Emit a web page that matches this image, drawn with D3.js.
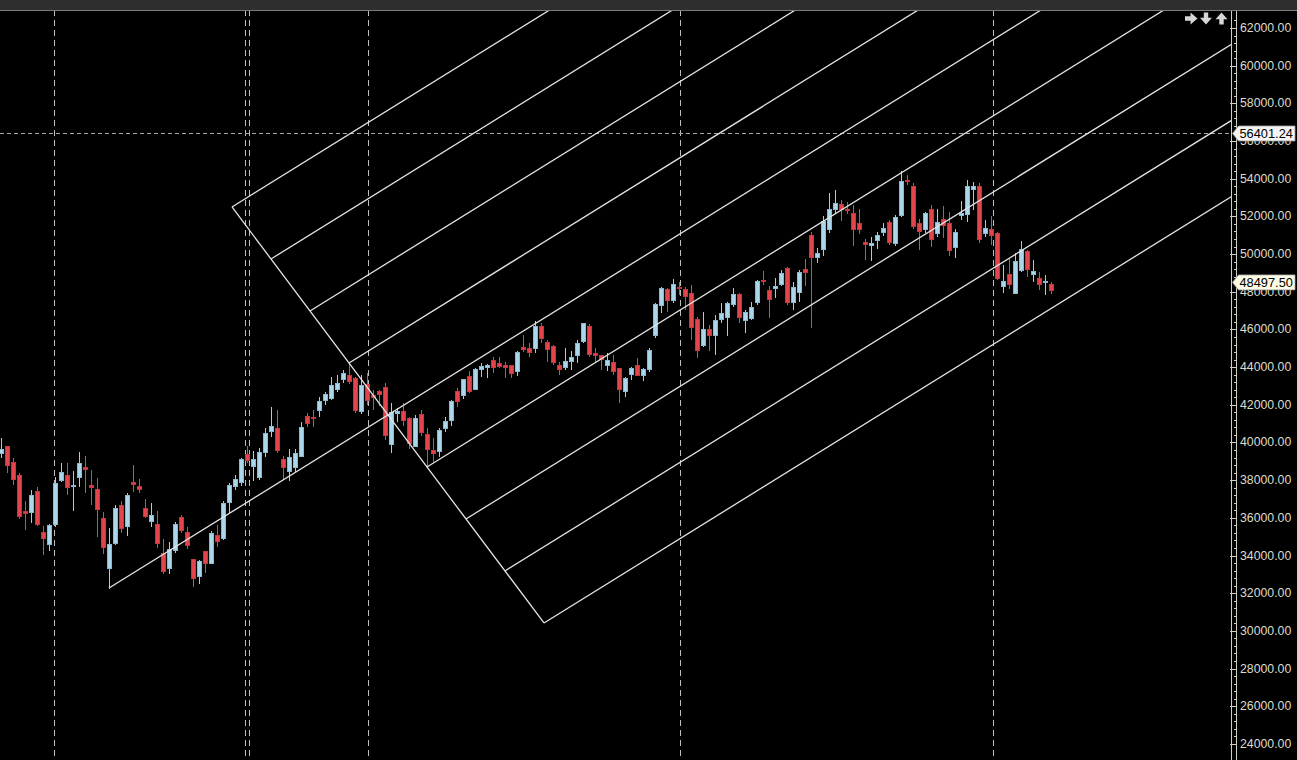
<!DOCTYPE html>
<html><head><meta charset="utf-8">
<script src="https://cdn.jsdelivr.net/npm/d3@7"></script>
<style>html,body{margin:0;padding:0;background:#000;overflow:hidden}</style>
</head><body>
<svg id="chart" width="1297" height="760"></svg>
<script>
// ---- data (weekly candles) ----
const opens = [39440,39780,38930,38270,36310,36270,37420,35210,34560,35620,37970,38270,37650,38150,38650,37740,37480,35990,33300,34650,
36630,35530,37900,37640,36510,35800,35670,34120,33300,34290,36030,35230,33800,32880,34190,33590,35070,34890,36800,37650,
37870,39340,38710,38150,39460,40570,40750,39070,38450,38680,39280,41400,41340,41720,42220,42320,42800,43320,43530,43420,
41630,43100,42470,42680,42930,39880,41550,41620,41280,39810,41460,40400,39550,39510,40730,41180,42680,42500,43490,42820,
43880,43990,44330,44170,44110,44060,43760,45030,45010,44980,46180,45300,45080,44110,43970,44290,44640,45350,46180,44730,
44640,44080,44270,43900,42730,43630,44110,43580,43850,45670,47280,48130,47560,48240,48130,47920,46540,45170,46010,45670,
46550,46640,47300,47830,46460,46590,47420,48620,48090,48180,48400,49210,47420,47950,49160,50960,49810,50220,51280,52340,
52610,52380,52160,51600,50640,50470,50710,51140,51670,50570,52040,53930,53610,51600,51280,52380,51070,51810,51600,50340,
52060,52090,53440,53580,51070,51320,51070,48270,48890,47920,49120,50130,48930,48680,48500,48360];
const highs = [40240,39790,39160,38360,36910,37480,37620,35570,35670,38180,38930,38930,38500,39490,39280,38540,38100,36310,35460,36680,
36910,37300,38800,38050,37000,36770,36360,34880,34720,35780,36150,35500,33810,33760,34190,35300,35620,36910,37850,38270,
39160,39810,39560,39690,40750,41900,41720,39280,39640,39640,41100,41580,41720,42400,42700,43460,43580,43850,44200,43490,
43580,43670,42790,42790,43140,42110,41810,42080,41370,41460,41720,40750,40220,40750,41370,42250,42880,43390,43790,43940,
44230,44170,44550,44550,44290,44110,44870,45700,45260,46450,46330,45440,45190,44290,45030,44860,45440,46360,46290,45000,
44650,44730,44640,43900,43490,43990,44500,43940,45000,47400,48240,48180,48660,48530,48270,48360,46680,46940,46240,46770,
47420,47470,48180,47920,47030,47470,48620,49100,48310,48710,49160,49300,48530,49160,49720,51190,50310,52020,53230,53400,
52870,52780,52610,52380,50780,50890,51190,51630,51810,52070,54400,54200,53760,51850,52250,52610,52380,52550,52230,51320,
52830,53930,53840,53760,51810,52020,51190,49420,49720,50040,50690,50220,49690,49070,48890,48530];
const lows = [39180,38400,37740,35920,35350,35740,35570,34030,34260,35530,37920,37210,36380,37650,37330,36680,35000,34080,32210,34560,
35180,35040,37390,37300,35980,35530,34380,33020,33020,34150,35210,34360,32340,32490,33090,33550,34470,34820,36260,37480,
37690,38890,37970,38010,39250,40310,39460,38000,37970,38450,39210,40840,40840,41340,41990,42250,42700,43140,43100,41580,
41510,41990,41720,41940,40130,39460,41100,40870,39640,39740,40340,38710,38980,39250,40570,40870,41900,42290,42610,42790,
43490,43410,43700,43940,43410,43410,43530,44820,44550,44730,45260,44290,44110,43580,43850,43850,44230,45260,44550,44290,
43850,43790,43580,42110,42400,43320,43530,43280,43760,45530,46890,46940,47420,47830,47030,45440,44470,45050,44870,44640,
46360,45650,47180,46330,45830,46500,47300,48360,46620,47650,48310,47300,47030,47470,48310,46060,49540,49900,51140,52160,
51770,52130,50430,51070,49690,49650,50250,50960,50480,50430,51950,53670,51320,50220,51140,50390,50920,50840,49900,49780,
51810,51720,52340,50600,50920,50480,48620,47920,48130,47880,49070,48770,48530,48090,47830,47880];
const closes = [39650,38770,38050,36060,36240,37160,35620,34890,35570,37800,38430,37620,37740,38860,38560,37600,36420,34440,34610,36470,
35420,37210,37760,37490,36060,36150,34650,33140,34330,35660,35320,34540,32770,33690,33590,35180,34730,36770,37700,38010,
39110,39030,39070,39480,40450,40840,39560,38680,39210,39390,40800,41020,41260,42200,42520,43050,43140,43670,43210,41690,
43050,42220,42380,42540,40380,41580,41630,41160,39960,41280,40520,39640,39430,40660,41090,42200,42160,43320,42700,43850,
44020,44060,43990,44020,43990,43670,44800,44910,44800,46150,45510,44910,44260,43850,44290,44500,45230,46290,44680,44630,
44380,44330,43760,42790,43370,43900,43580,43850,44860,47300,48180,47530,48360,48160,47740,46110,44870,46010,45670,46450,
46860,47350,47880,46640,46910,47180,48530,48530,47600,48270,48980,47420,48240,49030,49010,49810,50040,51720,52380,52700,
52340,52290,51320,51330,50520,50570,51000,51370,50600,51950,53840,53830,51450,51190,52130,50780,51700,51540,50180,51170,
52160,53580,53610,50780,51370,51010,48710,48570,48360,49580,50220,49160,49050,48400,48570,48060];

// y-axis ticks
const yTickValues = [24000,26000,28000,30000,32000,34000,36000,38000,40000,42000,44000,46000,48000,50000,52000,54000,56000,58000,60000,62000];
// period separators (in candle-index units)
const separators = [8.8, 40.6, 41.3, 61.1, 113.1, 165.3];
// price markers
const markerLevels = [56401.24, 48497.50];
const markerLabels = ["56401.24", "48497.50"];
// Gann grid (candle index, price)
const gridStart = [38.45, 52500];
const gridEnd = [90.45, 30420];
const gridCount = 9;
const gridSlope = 197.5;       // price per candle along the parallels
const extendedLine = 4;        // grid line extended to the left
const extendedFrom = 17.95;

// ---- scales ----
const W = 1297, H = 760, axisX = 1231.5, topH = 10;
const x = d3.scaleLinear().domain([0, 175]).range([1.3, 1051.3]);
const y = d3.scaleLinear().domain([24000, 62000]).range([743.9, 28]);

const svg = d3.select("#chart");
svg.append("rect").attr("width", W).attr("height", H).attr("fill", "#000");

const defs = svg.append("defs");
defs.append("clipPath").attr("id", "plot").append("rect")
  .attr("x", 0).attr("y", topH).attr("width", axisX).attr("height", H - topH);

const plot = svg.append("g").attr("clip-path", "url(#plot)");

// separators
plot.selectAll("line.sep").data(separators).join("line")
  .attr("x1", d => Math.round(x(d)) + 0.5).attr("x2", d => Math.round(x(d)) + 0.5)
  .attr("y1", topH).attr("y2", H)
  .attr("stroke", "#bdbdbd").attr("stroke-width", 1).attr("stroke-dasharray", "6,4");

// horizontal dashed level
plot.append("line")
  .attr("x1", 0).attr("x2", axisX)
  .attr("y1", Math.round(y(markerLevels[0])) + 0.5).attr("y2", Math.round(y(markerLevels[0])) + 0.5)
  .attr("stroke", "#a8a8a8").attr("stroke-dasharray", "4,3");

// candles
const idx = d3.range(opens.length);
const upFill = "#acd7ea", upStroke = "#86b9d3", dnFill = "#e2454b", dnStroke = "#c6363b";
const cg = plot.append("g").attr("shape-rendering", "crispEdges");
idx.forEach(i => {
  const up = closes[i] >= opens[i];
  const c = Math.round(x(i));
  cg.append("line")
    .attr("x1", c + 0.5).attr("x2", c + 0.5)
    .attr("y1", y(highs[i])).attr("y2", y(lows[i]))
    .attr("stroke", up ? "#9fd0ea" : "#e2454b").attr("stroke-width", 1);
  const top = y(Math.max(opens[i], closes[i]));
  const bot = y(Math.min(opens[i], closes[i]));
  cg.append("rect")
    .attr("x", c - 1.5).attr("width", 4)
    .attr("y", top).attr("height", Math.max(1, bot - top))
    .attr("fill", up ? upFill : dnFill)
    .attr("stroke", up ? upStroke : dnStroke).attr("stroke-width", 1);
});

// Gann grid
const gl = plot.append("g").attr("stroke", "#e4e4e4").attr("stroke-width", 1.3).attr("fill", "none");
gl.append("line")
  .attr("x1", x(gridStart[0])).attr("y1", y(gridStart[1]))
  .attr("x2", x(gridEnd[0])).attr("y2", y(gridEnd[1]));
d3.range(gridCount).forEach(k => {
  const t = k / (gridCount - 1);
  const i0 = gridStart[0] + (gridEnd[0] - gridStart[0]) * t;
  const p0 = gridStart[1] + (gridEnd[1] - gridStart[1]) * t;
  const iFrom = (k === extendedLine) ? extendedFrom : i0;
  const pFrom = p0 + (iFrom - i0) * gridSlope;
  const iTo = 260;
  const pTo = p0 + (iTo - i0) * gridSlope;
  gl.append("line")
    .attr("x1", x(iFrom)).attr("y1", y(pFrom))
    .attr("x2", x(iTo)).attr("y2", y(pTo));
});

// top bar
svg.append("rect").attr("x", 0).attr("y", 0).attr("width", W).attr("height", topH).attr("fill", "#2e2e2e");
svg.append("line").attr("x1", 0).attr("x2", W).attr("y1", topH + 0.5).attr("y2", topH + 0.5)
  .attr("stroke", "#7c7c7c");

// axis
const ax = svg.append("g").attr("shape-rendering", "crispEdges");
ax.append("line").attr("x1", axisX).attr("x2", axisX).attr("y1", topH + 1).attr("y2", H).attr("stroke", "#cfcfbf");
ax.append("line").attr("x1", axisX + 5).attr("x2", axisX + 5).attr("y1", topH + 1).attr("y2", H).attr("stroke", "#cfcfbf");
const minorTicks = d3.range(24000, 62401, 400).filter(v => v % 2000 !== 0);
ax.selectAll("line.minor").data(minorTicks).join("line")
  .attr("x1", axisX + 2).attr("x2", axisX + 5)
  .attr("y1", d => Math.round(y(d)) + 0.5).attr("y2", d => Math.round(y(d)) + 0.5)
  .attr("stroke", "#cfcfbf");
ax.selectAll("line.major").data(yTickValues).join("line")
  .attr("x1", axisX - 2).attr("x2", axisX + 5)
  .attr("y1", d => Math.round(y(d)) + 0.5).attr("y2", d => Math.round(y(d)) + 0.5)
  .attr("stroke", "#cfcfbf");
svg.append("g").selectAll("text").data(yTickValues).join("text")
  .attr("x", 1240).attr("y", d => y(d))
  .attr("dominant-baseline", "central")
  .attr("font-family", "'Liberation Sans', Arial, sans-serif").attr("font-size", 12.3)
  .attr("fill", "#dcdccc")
  .text(d => d3.format(".2f")(d));

// price marker boxes
const boxFill = ["#f4f4f4", "#fbfbe6"];
markerLevels.forEach((v, k) => {
  const cy = y(v);
  const g = svg.append("g");
  g.append("path")
    .attr("d", `M${axisX + 1},${cy} L${axisX + 7},${cy - 7.5} L1295,${cy - 7.5} L1295,${cy + 7.5} L${axisX + 7},${cy + 7.5} Z`)
    .attr("fill", boxFill[k]).attr("stroke", "#9a9a9a").attr("stroke-width", 0.8);
  g.append("text").attr("x", 1239.5).attr("y", cy).attr("dominant-baseline", "central")
    .attr("font-family", "'Liberation Sans', Arial, sans-serif").attr("font-size", 12.8)
    .attr("fill", "#000").text(markerLabels[k]);
});

// toolbar arrows
const ic = svg.append("g").attr("fill", "#d6d6d6");
ic.append("path").attr("d", "M1185,16.3 L1190.5,16.3 L1190.5,12.5 L1197.5,18.5 L1190.5,24.5 L1190.5,20.7 L1185,20.7 Z");
ic.append("path").attr("d", "M1203.8,12.5 L1208.2,12.5 L1208.2,17.8 L1212,17.8 L1206,24.5 L1200,17.8 L1203.8,17.8 Z");
ic.append("path").attr("d", "M1219.3,24.5 L1223.7,24.5 L1223.7,19.2 L1227.5,19.2 L1221.5,12.5 L1215.5,19.2 L1219.3,19.2 Z");
</script>
</body></html>
